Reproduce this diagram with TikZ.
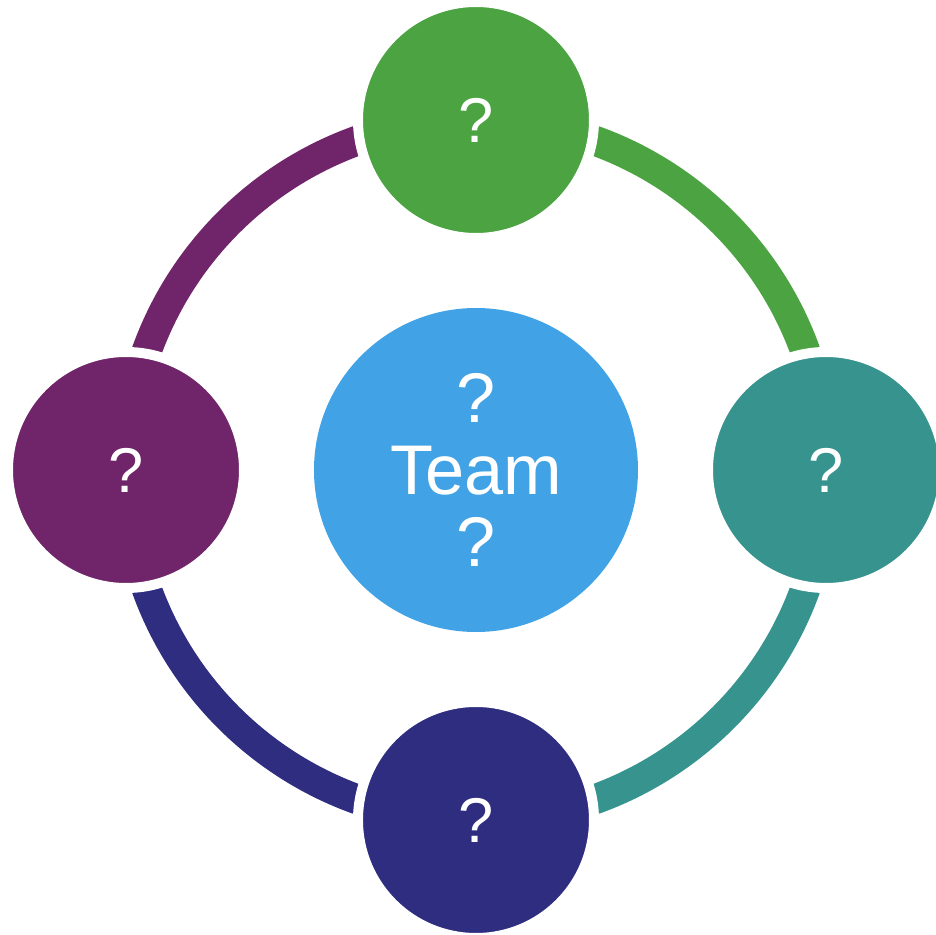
\documentclass[tikz,border=0pt]{standalone}
\usepackage{fontspec}
\setmainfont{Liberation Sans}
\usetikzlibrary{backgrounds}
\definecolor{teamgreen}{RGB}{75,163,66}
\definecolor{teamteal}{RGB}{54,147,142}
\definecolor{teamnavy}{RGB}{46,45,128}
\definecolor{teampurple}{RGB}{112,36,106}
\definecolor{teamblue}{RGB}{65,163,229}
\newcommand{\ringr}{7cm}
\newcommand{\ringw}{0.6cm}
\newcommand{\rolesize}{4.72cm}
\newcommand{\rolegap}{0.2cm}
\newcommand{\teamsize}{6.48cm}
\tikzset{
  role/.style={circle,fill=#1,draw=white,line width=\rolegap,
    minimum size=\rolesize,inner sep=0pt,text=white,
    font=\fontsize{36}{38}\selectfont},
  team/.style={circle,fill=teamblue,minimum size=\teamsize,inner sep=0pt,
    text=white,align=center,font=\fontsize{40}{41}\selectfont},
  link/.style={draw=#1,line width=\ringw}
}
\begin{document}
\begin{tikzpicture}
    \useasboundingbox (-9.52,-9.3) rectangle (9.2,9.4);
    % team in the middle
    \node[team] (team) at (0,0) {?\\Team\\?};
    % the four roles
    \node[role=teamgreen] (top) at (0,7) {?};
    \node[role=teamteal] (right) at (7,0) {?};
    \node[role=teamnavy] (bottom) at (0,-7) {?};
    \node[role=teampurple] (left) at (-7,0) {?};
    \begin{scope}[on background layer]
      % ring between the roles
      \draw[link=teamgreen] (top.center) arc[start angle=90,end angle=0,radius=\ringr];
      \draw[link=teamteal] (right.center) arc[start angle=0,end angle=-90,radius=\ringr];
      \draw[link=teamnavy] (bottom.center) arc[start angle=-90,end angle=-180,radius=\ringr];
      \draw[link=teampurple] (left.center) arc[start angle=180,end angle=90,radius=\ringr];
    \end{scope}
  \end{tikzpicture}
\end{document}
